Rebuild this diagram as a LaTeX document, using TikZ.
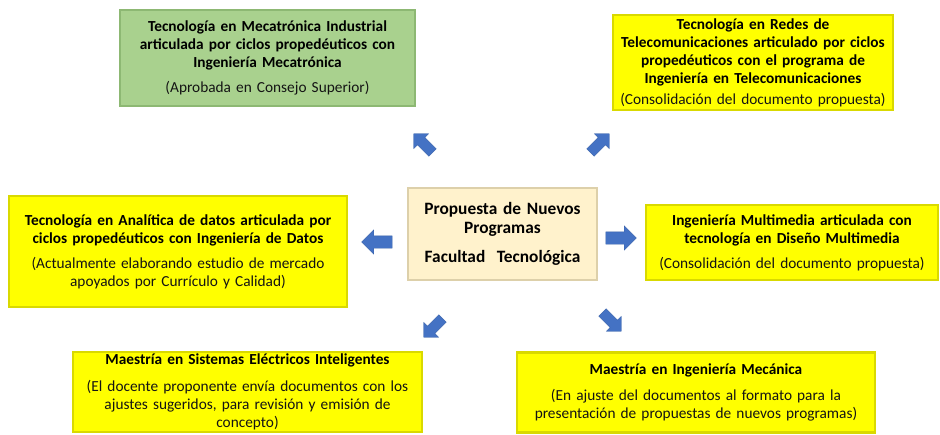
\documentclass[tikz,border=0pt]{standalone}
\usepackage{fontspec}
\setmainfont{Carlito}
\usetikzlibrary{shapes.arrows, positioning}
\definecolor{boxyellow}{HTML}{FFFF00}
\definecolor{yellowedge}{HTML}{D9D900}
\definecolor{boxgreen}{HTML}{A9D18E}
\definecolor{greenedge}{HTML}{8DB873}
\definecolor{boxcream}{HTML}{FFF2CC}
\definecolor{creamedge}{HTML}{DDD0AA}
\definecolor{arrowblue}{HTML}{4472C4}
\definecolor{arrowedge}{HTML}{3A62A8}
\newcommand{\est}[1]{{\mdseries\color{black!92}#1}}

\begin{document}
\begin{tikzpicture}[x=0.75pt, y=-0.75pt,
    prog/.style={rectangle, draw=yellowedge, line width=1.6pt, fill=boxyellow,
        align=center, inner sep=0pt, font=\bfseries\fontsize{11.5}{13.6}\selectfont},
    approved/.style={prog, draw=greenedge, fill=boxgreen},
    hub/.style={prog, draw=creamedge, fill=boxcream, font=\bfseries\fontsize{13}{14}\selectfont},
    bigarrow/.style={single arrow, fill=arrowblue, draw=arrowedge, line width=0.3pt,
        inner xsep=0pt, inner ysep=4.5pt, minimum height=23pt, single arrow head extend=4.5pt},
    smallarrow/.style={bigarrow, inner ysep=3.8pt, minimum height=20pt, single arrow head extend=4pt}]
    \useasboundingbox (0,0) rectangle (940,435);

    \node[hub, minimum width=141.8pt, minimum height=69pt, text width=138pt] (prop) at (502.5,234)
        {Propuesta de Nuevos\\ Programas\\[8pt] Facultad~~Tecnológica};

    \node[approved, minimum width=221.3pt, minimum height=72pt, text width=217pt] (meca) at (267.5,58)
        {Tecnología en Mecatrónica Industrial\\ articulada por ciclos propedéuticos con\\ Ingeniería Mecatrónica\\[5pt]
         \est{(Aprobada en Consejo Superior)}};
    \node[prog, minimum width=210pt, minimum height=71.3pt, text width=206pt] (tele) at (753,62.5)
        {Tecnología en Redes de\\ Telecomunicaciones articulado por ciclos\\ propedéuticos con el programa de\\ Ingeniería en Telecomunicaciones\\[2pt]
         \est{(Consolidación del documento propuesta)}};
    \node[prog, minimum width=253.5pt, minimum height=83.3pt, text width=250pt] (datos) at (178,251.5)
        {Tecnología en Analítica de datos articulada por\\ ciclos propedéuticos con Ingeniería de Datos\\[5pt]
         \est{(Actualmente elaborando estudio de mercado\\ apoyados por Currículo y Calidad)}};
    \node[prog, minimum width=219pt, minimum height=56.3pt, text width=215pt] (multi) at (792,242.5)
        {Ingeniería Multimedia articulada con\\ tecnología en Diseño Multimedia\\[5pt]
         \est{(Consolidación del documento propuesta)}};
    \node[prog, minimum width=261.8pt, minimum height=60pt, text width=258pt] (sist) at (247.5,392)
        {Maestría en Sistemas Eléctricos Inteligentes\\[6pt]
         \est{(El docente proponente envía documentos con los\\ ajustes sugeridos, para revisión y emisión de\\ concepto)}};
    \node[prog, minimum width=268.5pt, minimum height=60pt, text width=264pt] (mecanica) at (696,392.5)
        {Maestría en Ingeniería Mecánica\\[6pt]
         \est{(En ajuste del documentos al formato para la\\ presentación de propuestas de nuevos programas)}};

    \node[smallarrow, rotate=135] (toMeca) at (425,145) {};
    \node[smallarrow, rotate=45] (toTele) at (598,145) {};
    \node[bigarrow, rotate=180] (toDatos) at (380,242) {};
    \node[bigarrow] (toMulti) at (618,238) {};
    \node[smallarrow, rotate=225] (toSist) at (435,326) {};
    \node[smallarrow, rotate=-45] (toMecanica) at (610,320) {};
\end{tikzpicture}
\end{document}
